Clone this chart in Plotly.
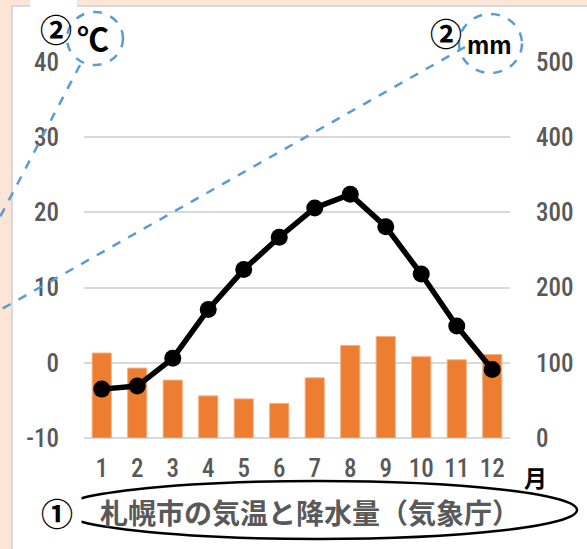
import plotly.graph_objects as go

months = ["1", "2", "3", "4", "5", "6", "7", "8", "9", "10", "11", "12"]
temperature = [-3.5, -3.1, 0.6, 7.1, 12.4, 16.7, 20.6, 22.4, 18.1, 11.8, 4.9, -0.9]
precipitation = [113, 93, 77, 56, 52, 46, 80, 123, 135, 108, 104, 111]
temp_ticks = [-10, 0, 10, 20, 30, 40]
temp_ticktext = ["-10", "0", "10", "20", "30", "40"]
precip_ticks = [0, 100, 200, 300, 400, 500]

W, H = 587, 549
L, R, T, B = 84, 77, 62, 111
PW = W - L - R
PH = H - T - B


def px(x):
    return (x - L) / PW


def py(y):
    return (H - B - y) / PH


GREY = "#595959"
TICKFONT = dict(family="Liberation Sans Narrow, Roboto Condensed, Roboto, sans-serif", size=25,
                color=GREY, weight=500)
BLUE = "#5B9BD5"

fig = go.Figure()
fig.add_trace(go.Bar(
    x=months, y=precipitation, yaxis="y",
    marker=dict(color="#ED7D31", line=dict(color="#F4B183", width=1)),
    showlegend=False,
))
fig.add_trace(go.Scatter(
    x=months, y=temperature, yaxis="y2", mode="lines+markers",
    line=dict(color="black", width=5.5),
    marker=dict(color="black", size=17),
    showlegend=False,
))

shapes = [
    # white panel
    dict(type="rect", xref="paper", yref="paper", x0=px(12), y0=py(6), x1=px(620), y1=py(580),
         fillcolor="white", line=dict(color="#D9D9D9", width=2), layer="below"),
    dict(type="rect", xref="paper", yref="paper", x0=px(30), y0=py(-2), x1=px(77), y1=py(8),
         fillcolor="white", line=dict(width=0), layer="below"),
    # dashed ellipses
    dict(type="circle", xref="paper", yref="paper", x0=px(67), y0=py(12), x1=px(123), y1=py(65),
         line=dict(color=BLUE, width=2.5, dash="dash")),
    dict(type="circle", xref="paper", yref="paper", x0=px(459), y0=py(14), x1=px(522), y1=py(73),
         line=dict(color=BLUE, width=2.5, dash="dash")),
    # dashed leader lines
    dict(type="line", xref="paper", yref="paper", x0=px(80), y0=py(65), x1=px(0), y1=py(217),
         line=dict(color=BLUE, width=2.5, dash="dash")),
    dict(type="line", xref="paper", yref="paper", x0=px(465), y0=py(47), x1=px(0), y1=py(310),
         line=dict(color=BLUE, width=2.5, dash="dash")),
    # black ellipse around title
    dict(type="circle", xref="paper", yref="paper", x0=px(59), y0=py(481), x1=px(577), y1=py(539),
         line=dict(color="black", width=2.5)),
]

CJK = "Noto Sans CJK JP"
annotations = [
    dict(text="<b>②</b>", x=px(56), y=py(28), font=dict(family=CJK, size=32, color="black")),
    dict(text="<b>℃</b>", x=px(93), y=py(37), font=dict(family=CJK, size=32, color="black")),
    dict(text="<b>②</b>", x=px(446), y=py(32), font=dict(family=CJK, size=32, color="black")),
    dict(text="<b>mm</b>", x=px(489), y=py(45), font=dict(family="Liberation Sans, Arial, sans-serif", size=25, color="black")),
    dict(text="<b>月</b>", x=px(535), y=py(477), font=dict(family=CJK, size=23, color="black")),
    dict(text="<b>①</b>", x=px(57), y=py(512), font=dict(family=CJK, size=32, color="black"),
         bgcolor="white", width=46, height=44),
    dict(text="<b>札幌市の気温と降水量（気象庁）</b>", x=px(310), y=py(512),
         font=dict(family=CJK, size=28, color=GREY)),
]
for a in annotations:
    a.update(xref="paper", yref="paper", xanchor="center", yanchor="middle", showarrow=False)

fig.update_layout(
    width=W, height=H,
    margin=dict(l=L, r=R, t=T, b=B, pad=0, autoexpand=False),
    paper_bgcolor="#FBE5D6",
    plot_bgcolor="rgba(0,0,0,0)",
    bargap=0.46,
    xaxis=dict(type="category", showgrid=False, showline=False, zeroline=False, ticks="",
               tickfont=TICKFONT, ticklabelstandoff=13, automargin=False, range=[-0.5, 11.5]),
    yaxis=dict(side="right", range=[0, 500], tickvals=precip_ticks,
               showgrid=True, gridcolor="#D9D9D9", gridwidth=1.5,
               zeroline=True, zerolinecolor="#D9D9D9", zerolinewidth=1.5, automargin=False,
               showline=False, ticks="", tickfont=TICKFONT, ticklabelstandoff=25),
    yaxis2=dict(side="left", overlaying="y", range=[-10, 40], tickvals=temp_ticks, ticktext=temp_ticktext,
                showgrid=False, zeroline=False, showline=False, ticks="", automargin=False,
                tickfont=TICKFONT, ticklabelstandoff=24),
    shapes=shapes,
    annotations=annotations,
)

fig.write_html("out.html", config={"displayModeBar": False},
               post_script="document.body.style.margin='0';document.body.style.overflow='hidden';")
